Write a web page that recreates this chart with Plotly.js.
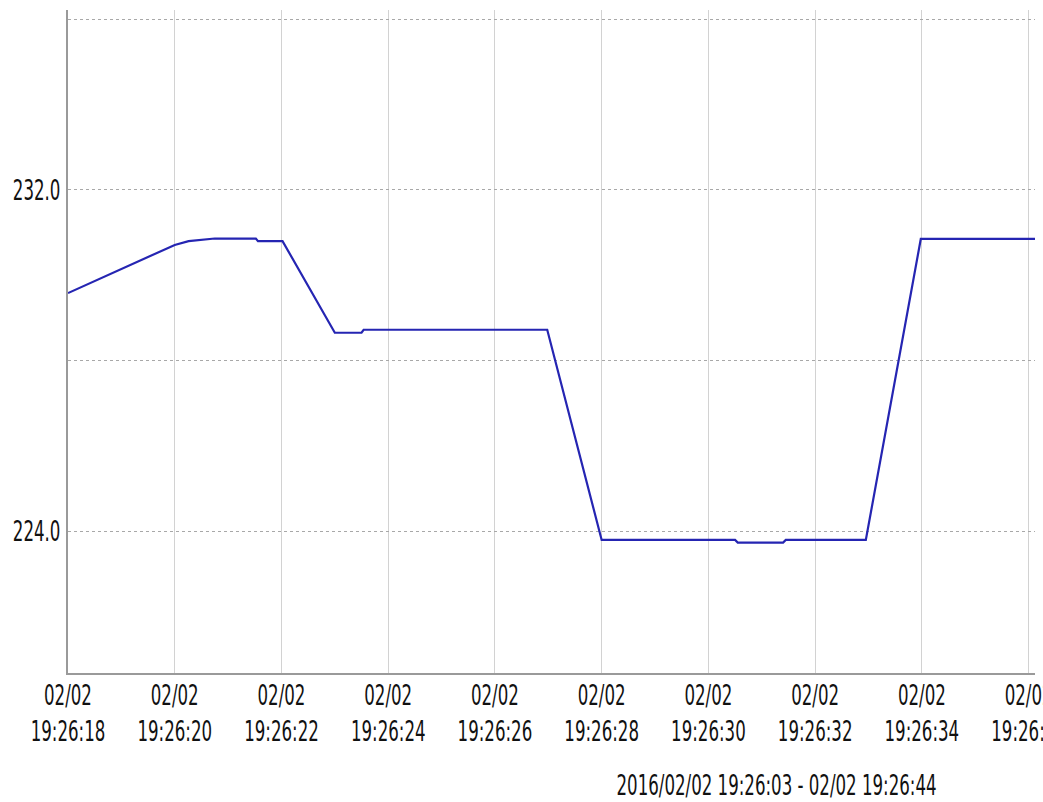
<!DOCTYPE html>
<html>
<head>
<meta charset="utf-8">
<script src="https://cdn.plot.ly/plotly-3.0.1.min.js"></script>
<style>
  html, body { margin: 0; padding: 0; background: #ffffff; }
  #chart { width: 1043px; height: 802px; }
</style>
</head>
<body>
<div id="chart"></div>
<script>
// Sample times (2016-02-02) and measured values
var sampleTimes = [
  '19:26:18.00', '19:26:19.00', '19:26:20.00', '19:26:20.26', '19:26:20.75',
  '19:26:21.52', '19:26:21.56', '19:26:22.02', '19:26:23.00', '19:26:23.50',
  '19:26:23.54', '19:26:26.98', '19:26:28.00', '19:26:30.50', '19:26:30.55',
  '19:26:31.40', '19:26:31.45', '19:26:32.95', '19:26:33.98', '19:26:36.20'
];
var sampleValues = [
  229.58, 230.15, 230.71, 230.80, 230.86,
  230.86, 230.80, 230.80, 228.65, 228.65,
  228.72, 228.72, 223.79, 223.79, 223.73,
  223.73, 223.79, 223.79, 230.85, 230.85
];
var yTickValues = [224, 228, 232, 236];
var yTickLabels = ['224.0', '', '232.0', ''];
var rangeCaption = '2016/02/02 19:26:03 - 02/02 19:26:44';
var datePrefix = '2016-02-02 ';

var FONT = '"DejaVu Sans Condensed", "Liberation Sans Narrow", sans-serif';
var FSIZE = 28;
var NARROW = 0.66; // horizontal squeeze to mimic the tall narrow bitmap font

var xs = sampleTimes.map(function (t) { return datePrefix + t; });

var trace = {
  x: xs,
  y: sampleValues,
  type: 'scatter',
  mode: 'lines',
  line: { color: '#2525b2', width: 2.2 },
  hoverinfo: 'skip'
};

var layout = {
  width: 1043,
  height: 802,
  margin: { l: 68, r: 8, t: 10, b: 129 },
  paper_bgcolor: '#ffffff',
  plot_bgcolor: '#ffffff',
  showlegend: false,
  font: { family: FONT, size: FSIZE, color: '#111111' },
  xaxis: {
    type: 'date',
    range: [datePrefix + '19:26:18.00', datePrefix + '19:26:36.12'],
    tick0: datePrefix + '19:26:18',
    dtick: 2000,
    tickformat: '%m/%d<br>%H:%M:%S',
    tickangle: 0,
    ticklabeloverflow: 'allow',
    ticklabelstandoff: -4,
    showgrid: true,
    gridcolor: '#d2d2d2',
    gridwidth: 1,
    showline: true,
    linecolor: '#9a9a9a',
    linewidth: 2,
    ticks: '',
    zeroline: false,
    tickfont: { family: FONT, size: FSIZE, color: '#111111' },
    fixedrange: true
  },
  yaxis: {
    range: [220.67, 236.22],
    tickmode: 'array',
    tickvals: yTickValues,
    ticktext: yTickLabels,
    showgrid: true,
    gridcolor: '#a8a8a8',
    griddash: 'dot',
    gridwidth: 1,
    showline: true,
    linecolor: '#9a9a9a',
    linewidth: 2,
    ticks: '',
    zeroline: false,
    ticklabelstandoff: 0,
    tickfont: { family: FONT, size: FSIZE, color: '#111111' },
    fixedrange: true
  },
  annotations: [{
    text: rangeCaption,
    xref: 'paper', yref: 'paper',
    x: 0.733, y: -0.170,
    xanchor: 'center', yanchor: 'middle',
    showarrow: false,
    font: { family: FONT, size: FSIZE, color: '#111111' }
  }]
};

function squeezeText(gd) {
  var nodes = gd.querySelectorAll('.xtick text, .ytick text, .annotation-text');
  nodes.forEach(function (t) {
    var x = parseFloat(t.getAttribute('x')) || 0;
    var tr = t.getAttribute('transform') || '';
    t.setAttribute('transform', tr + ' translate(' + x + ',0) scale(' + NARROW + ',1) translate(' + (-x) + ',0)');
  });
}

Plotly.newPlot('chart', [trace], layout, { displayModeBar: false, staticPlot: true })
  .then(function (gd) { squeezeText(gd); });
</script>
</body>
</html>
